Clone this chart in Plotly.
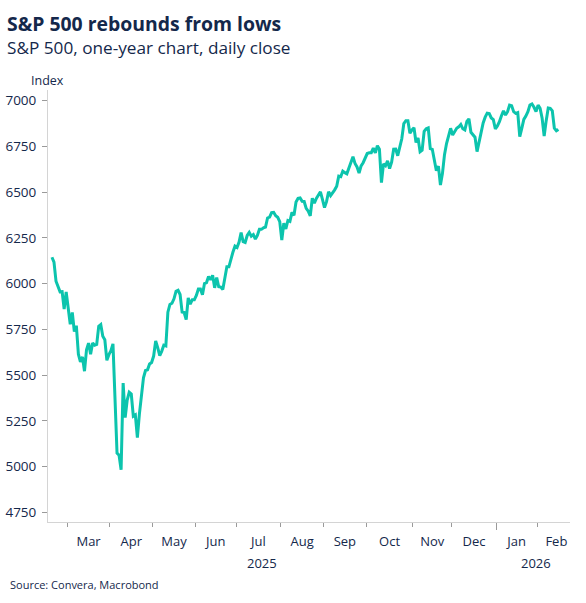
import pandas as pd
import plotly.graph_objects as go

# ---------------- text ----------------
title = "S&P 500 rebounds from lows"
subtitle = "S&P 500, one-year chart, daily close"
y_unit = "Index"
source = "Source: Convera, Macrobond"

# ---------------- calendar ----------------
calendar_start = "2025-02-03"
calendar_end = "2026-02-27"
data_start = "2025-02-19"
holidays = ["2025-02-17", "2025-04-18", "2025-05-26", "2025-06-19", "2025-07-04",
            "2025-09-01", "2025-11-27", "2025-12-25", "2026-01-01", "2026-01-19",
            "2026-02-16"]

# ---------------- data (daily close) ----------------
close_2025_02 = [6144.15, 6117.52, 6013.13, 5983.25, 5955.25, 5956.06, 5861.57, 5954.50]
close_2025_03 = [5849.72, 5778.15, 5842.63, 5738.52, 5770.20, 5614.56, 5572.07, 5599.30,
                 5521.52, 5638.94, 5675.12, 5614.66, 5675.29, 5662.89, 5667.56, 5767.57,
                 5776.65, 5712.20, 5693.31, 5580.94, 5611.85]
close_2025_04 = [5633.07, 5670.97, 5396.52, 5074.08, 5062.25, 4982.77, 5456.90, 5268.05,
                 5363.36, 5405.97, 5396.63, 5275.70, 5282.70, 5158.20, 5287.76, 5375.86,
                 5484.77, 5525.21, 5528.75, 5560.83, 5569.06]
close_2025_05 = [5604.14, 5686.67, 5650.38, 5606.91, 5631.28, 5663.94, 5659.91, 5844.19,
                 5886.55, 5892.58, 5916.93, 5958.38, 5963.60, 5940.46, 5844.61, 5842.01,
                 5802.82, 5921.54, 5888.55, 5912.17, 5911.69]
close_2025_06 = [5935.94, 5970.37, 5970.81, 5939.30, 6000.36, 6005.88, 6038.81, 6022.24,
                 6045.26, 5976.97, 6033.11, 5982.72, 5980.87, 5967.84, 6025.17, 6092.18,
                 6092.16, 6141.02, 6173.07, 6204.95]
close_2025_07 = [6198.01, 6227.42, 6279.35, 6229.98, 6225.52, 6263.26, 6280.46, 6259.75,
                 6268.56, 6243.76, 6263.70, 6297.36, 6296.79, 6305.60, 6309.62, 6358.91,
                 6363.35, 6388.64, 6389.77, 6370.86, 6362.90, 6339.39]
close_2025_08 = [6238.01, 6329.94, 6299.19, 6345.06, 6340.00, 6389.45, 6373.45, 6445.76,
                 6466.58, 6468.54, 6449.80, 6449.15, 6411.37, 6395.78, 6370.17, 6466.91,
                 6439.32, 6465.94, 6481.40, 6501.86, 6460.26]
close_2025_09 = [6415.54, 6448.26, 6502.08, 6481.50, 6495.15, 6512.61, 6532.04, 6587.47,
                 6584.29, 6615.28, 6606.76, 6600.35, 6631.96, 6664.36, 6693.75, 6656.92,
                 6637.97, 6604.72, 6643.70, 6661.21, 6688.46]
close_2025_10 = [6711.20, 6715.35, 6715.79, 6740.28, 6714.59, 6753.72, 6735.11, 6552.51,
                 6654.72, 6644.31, 6671.06, 6629.07, 6664.01, 6735.13, 6735.35, 6699.40,
                 6738.44, 6791.69, 6875.16, 6890.89, 6890.59, 6822.34, 6840.20]
close_2025_11 = [6851.97, 6771.55, 6796.29, 6720.32, 6728.80, 6832.43, 6846.61, 6850.92,
                 6737.49, 6734.11, 6672.41, 6617.32, 6642.16, 6538.76, 6602.99, 6705.12,
                 6765.88, 6812.61, 6849.09]
close_2025_12 = [6812.63, 6829.37, 6849.72, 6857.12, 6870.40, 6846.51, 6840.51, 6886.68,
                 6901.00, 6827.41, 6816.51, 6800.26, 6721.43, 6774.76, 6834.50, 6878.49,
                 6909.79, 6932.05, 6929.94, 6905.74, 6896.24, 6845.50]
close_2026_01 = [6862, 6885, 6918, 6944, 6922, 6940, 6976, 6973, 6940, 6931,
                 6935, 6803, 6849, 6898, 6916, 6940, 6976, 6982, 6964, 6940]
close_2026_02 = [6976, 6958, 6904, 6807, 6891, 6960, 6958, 6945, 6850, 6836, 6843]

closes = (close_2025_02 + close_2025_03 + close_2025_04 + close_2025_05 + close_2025_06
          + close_2025_07 + close_2025_08 + close_2025_09 + close_2025_10 + close_2025_11
          + close_2025_12 + close_2026_01 + close_2026_02)

y_ticks = [4750, 5000, 5250, 5500, 5750, 6000, 6250, 6500, 6750, 7000]
month_labels = ["Mar", "Apr", "May", "Jun", "Jul", "Aug", "Sep", "Oct", "Nov", "Dec", "Jan", "Feb"]
year_labels = ["2025", "2026"]

# ---------------- trading-day axis ----------------
cal = pd.bdate_range(calendar_start, calendar_end)
cal = cal[~cal.isin(pd.to_datetime(holidays))]
origin = list(cal).index(pd.Timestamp(data_start))
pos = {d: i - origin for i, d in enumerate(cal)}
dates = [d for d in cal if d >= pd.Timestamp(data_start)][:len(closes)]
x_vals = [pos[d] for d in dates]

periods = pd.Series(cal).dt.to_period("M")
month_first, month_last = {}, {}
for d, p in zip(cal, periods):
    month_first.setdefault(p, pos[d])
    month_last[p] = pos[d]
months = sorted(month_first)
shown = months[1:]  # Mar 2025 .. Feb 2026
month_mid = [(month_first[p] + month_last[p]) / 2 for p in shown]
boundaries = [month_first[p] - 0.5 for p in shown]
year_bound = [b for b, p in zip(boundaries, shown) if p.month == 1]
minor_bound = [b for b, p in zip(boundaries, shown) if p.month != 1]
y2025 = [p for p in months if p.year == 2025]
y2026 = [p for p in months if p.year == 2026]
year_mid = [(month_first[y2025[0]] + month_last[y2025[-1]]) / 2,
            (month_first[y2026[0]] + month_last[y2026[-1]]) / 2]

NAVY = "#14284b"
LINE = "#0cc4ad"
FONT = "Open Sans"
x_range = [-1.94, 254.7]

fig = go.Figure()
fig.add_trace(go.Scatter(x=x_vals, y=closes, mode="lines",
                         line=dict(color=LINE, width=3), hoverinfo="skip",
                         showlegend=False))
# invisible trace to activate label axis
fig.add_trace(go.Scatter(x=[x_vals[0]], y=[closes[0]], xaxis="x2", mode="markers",
                         marker=dict(opacity=0), hoverinfo="skip", showlegend=False))

fig.update_layout(
    width=586, height=603,
    margin=dict(l=48, r=16, t=90, b=81),
    paper_bgcolor="white", plot_bgcolor="white",
    font=dict(family=FONT, color=NAVY),
    xaxis=dict(range=x_range, showgrid=False, zeroline=False, automargin=False,
               showline=True, linecolor="#d4d4d4", linewidth=1,
               tickmode="array", tickvals=year_bound, ticks="outside",
               ticklen=7, tickcolor="#9a9a9a", tickwidth=1,
               showticklabels=False,
               minor=dict(tickmode="array", tickvals=minor_bound, ticks="outside",
                          ticklen=4, tickcolor="#9a9a9a", tickwidth=1, showgrid=False)),
    xaxis2=dict(range=x_range, overlaying="x", anchor="y", side="bottom",
                showgrid=False, zeroline=False, showline=False, automargin=False,
                tickmode="array", tickvals=month_mid, ticktext=month_labels,
                ticks="", ticklabelstandoff=10,
                tickfont=dict(size=13, color=NAVY, family=FONT)),
    yaxis=dict(range=[4697, 7058.5], showgrid=False, zeroline=False, automargin=False,
               showline=True, linecolor="#d4d4d4", linewidth=1,
               tickmode="array", tickvals=y_ticks, ticks="outside", ticklen=5,
               tickcolor="#9a9a9a", tickwidth=1, ticklabelstandoff=3,
               tickfont=dict(size=13.5, color=NAVY, family=FONT)),
)

annotations = [
    dict(text="<b>" + title + "</b>", x=5, y=23, showarrow=False,
         xanchor="left", yanchor="middle",
         font=dict(size=19.4, color=NAVY, family=FONT)),
    dict(text=subtitle, x=5, y=48, showarrow=False, xanchor="left", yanchor="middle",
         font=dict(size=17.2, color=NAVY, family=FONT)),
    dict(text=y_unit, x=29, y=80, showarrow=False, xanchor="left", yanchor="middle",
         font=dict(size=12.5, color=NAVY, family=FONT)),
    dict(text=source, x=8, y=584, showarrow=False, xanchor="left", yanchor="middle",
         font=dict(size=11, color=NAVY, family=FONT)),
]
# convert pixel positions (from top-left) to paper coords
PW, PH, L, T = 586 - 48 - 16, 603 - 90 - 81, 48, 90
for a in annotations:
    a["xref"], a["yref"] = "paper", "paper"
    a["x"] = (a["x"] - L) / PW
    a["y"] = 1 - (a["y"] - T) / PH
for label, xm in zip(year_labels, year_mid):
    annotations.append(dict(text=label, x=xm, xref="x", y=1 - (563 - T) / PH, yref="paper",
                            showarrow=False, xanchor="center", yanchor="middle",
                            font=dict(size=13, color=NAVY, family=FONT)))
fig.update_layout(annotations=annotations)

fig.write_html("out.html")
